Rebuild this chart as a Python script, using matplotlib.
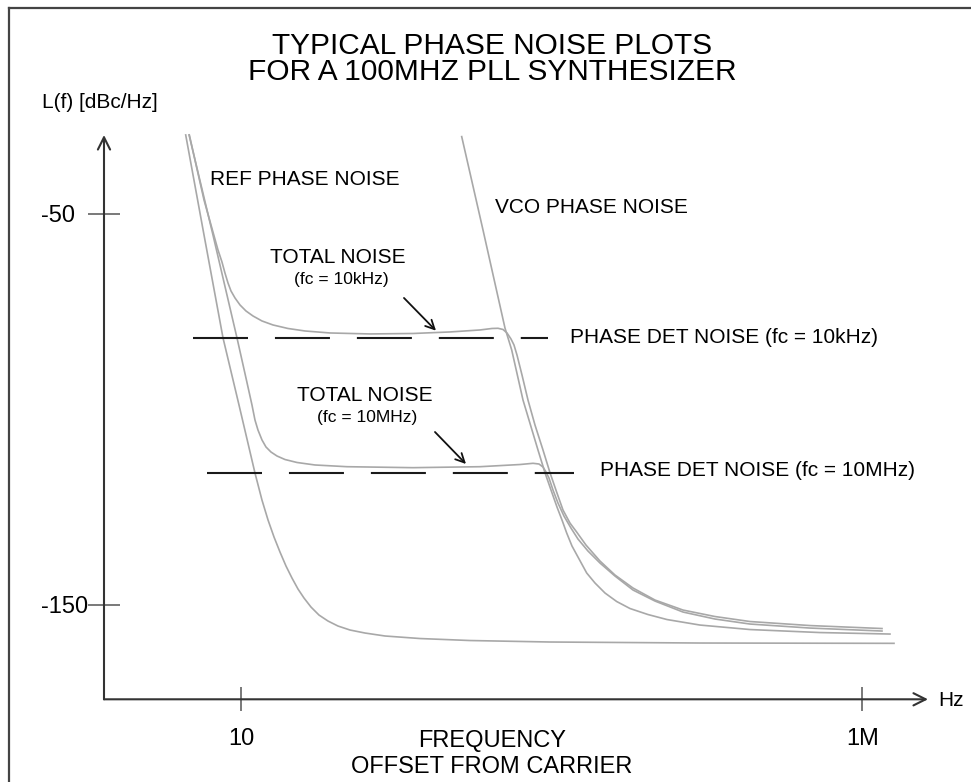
import numpy as np
import matplotlib.pyplot as plt
from matplotlib.lines import Line2D

plt.rcParams['font.family'] = ['Liberation Sans', 'DejaVu Sans']
plt.rcParams['lines.scale_dashes'] = False

# curves: offset frequency [Hz] and L(f) [dBc/Hz]
ref_f = [3.59, 5.04, 7.17, 9.64, 12.96, 14.75, 16.5, 18.44, 20.6, 23.03, 25.73, 28.76, 32.14, 36.59,
         42.44, 50.14, 60.35, 75.4, 99.5, 144.2, 275.8, 696.5, 3067, 49400, 1.8e6]
ref_L = [-29.78, -55.37, -81.74, -98.89, -116.29, -123.2, -128.3, -132.67, -136.51, -140.1, -143.17, -145.98, -148.28, -150.59,
         -152.64, -154.17, -155.45, -156.47, -157.24, -158.0, -158.65, -159.16, -159.54, -159.8, -159.88]

vco_f = [597.4, 886.5, 1332, 1509, 1860, 2456, 2796, 3125, 3492, 3832, 4181, 4612, 5153, 6056, 7062, 8500,
         10560, 13510, 18860, 26820, 49400, 124900, 456700, 1.671e6]
vco_L = [-30.21, -54.1, -79.18, -84.81, -97.61, -110.41, -116.22, -120.64, -124.99, -128.32, -131.65, -134.98, -137.79, -141.88, -144.44, -147.0,
         -149.18, -150.97, -152.51, -153.79, -155.2, -156.35, -157.12, -157.5]

tot10k_f = [3.84, 5.04, 6.53, 7.03, 7.43, 7.86, 8.31, 8.95, 9.82, 10.97, 12.49, 14.76, 18.09, 23.89, 32.74, 52.03,
            109.2, 242.3, 480.8, 838.5, 1047, 1170, 1284, 1383, 1489, 1574, 1664, 1826, 2040, 2323, 2695, 3068,
            3492, 3904, 4443, 5030, 5977, 7749, 10230, 14290, 21470, 36070, 65270, 124900, 379600, 1.441e6]
tot10k_L = [-29.78, -46.42, -59.21, -62.29, -65.1, -67.66, -69.71, -71.5, -73.29, -74.83, -76.11, -77.39, -78.41, -79.31, -79.95, -80.46,
            -80.71, -80.59, -80.2, -79.69, -79.31, -79.26, -79.56, -80.46, -81.99, -83.53, -86.09, -91.21, -97.61, -104.01, -110.41, -116.22,
            -121.42, -125.77, -129.1, -131.4, -134.73, -138.82, -142.4, -145.73, -148.8, -151.36, -153.02, -154.3, -155.33, -156.09]

tot10m_f = [3.82, 5.95, 9.29, 10.97, 12.26, 12.96, 13.7, 14.76, 15.89, 17.43, 19.49, 22.6, 28.23, 39.4, 71.3,
            242.3, 838.5, 1760, 2239, 2502, 2695, 2849, 3011, 3243, 3557, 3975, 4527, 5153, 6201, 7749,
            10230, 14290, 21470, 36070, 65270, 124900, 379600, 1.441e6]
tot10m_L = [-29.78, -55.37, -81.74, -91.98, -98.89, -102.73, -105.29, -107.84, -109.63, -110.92, -111.94, -112.84, -113.6, -114.24, -114.68,
            -114.93, -114.68, -114.12, -113.81, -113.99, -114.76, -116.04, -117.58, -120.65, -123.98, -127.31, -130.38, -133.19, -136.26, -139.33,
            -142.66, -146.24, -149.06, -151.87, -153.66, -154.94, -155.97, -156.73]

# phase detector noise floors
pd_levels = [-81.8, -116.2]
pd_start = [4.11, 5.32]
pd_stop = [2951, 4786]

fig = plt.figure(figsize=(9.71, 7.82), dpi=100)
ax = fig.add_axes([104/971, 1 - 699.3/782, 824/971, (699.3 - 135)/782])
ax.set_xscale('log')
ax.set_xlim(0.79, 3.38e6)
ax.set_ylim(-174.2, -29.8)

gray = '#a8a8a8'
for f, L in [(ref_f, ref_L), (vco_f, vco_L), (tot10k_f, tot10k_L), (tot10m_f, tot10m_L)]:
    ax.plot(f, L, color=gray, lw=1.2, clip_on=False, solid_joinstyle='round')

for lev, f0, f1 in zip(pd_levels, pd_start, pd_stop):
    ax.plot([f0, f1], [lev, lev], color='#1a1a1a', lw=1.5, dashes=(39.6, 19.4))

# axes drawn as arrows
for s in ax.spines.values():
    s.set_visible(False)
axc = '#333333'
ax.annotate('', xy=(0, 1), xytext=(0, 0), xycoords='axes fraction',
            arrowprops=dict(arrowstyle='->', lw=1.5, color=axc, mutation_scale=22, shrinkA=0, shrinkB=0))
ax.annotate('', xy=(1, 0), xytext=(0, 0), xycoords='axes fraction',
            arrowprops=dict(arrowstyle='->', lw=1.5, color=axc, mutation_scale=22, shrinkA=0, shrinkB=0))

ax.set_xticks([10, 1e6], ['10', '1M'])
ax.minorticks_off()
ax.tick_params(axis='x', direction='inout', length=17, width=1.1, color='#555555', pad=12, labelsize=17)
ax.set_yticks([-50, -150], ['-50', '-150'])
ax.tick_params(axis='y', direction='inout', length=23, width=1.1, color='#555555', pad=34, labelsize=17)
for lbl in ax.get_yticklabels():
    lbl.set_horizontalalignment('left')

fig.text(492/971, 1 - 59/782, 'TYPICAL PHASE NOISE PLOTS\nFOR A 100MHZ PLL SYNTHESIZER',
         ha='center', va='center', fontsize=21.5, linespacing=0.95)
fig.text(42/971, 1 - 103/782, 'L(f) [dBc/Hz]', ha='left', va='center', fontsize=15)
fig.text(938/971, 1 - 700/782, 'Hz', ha='left', va='center', fontsize=15)
fig.text(492/971, 1 - 754/782, 'FREQUENCY\nOFFSET FROM CARRIER', ha='center', va='center',
         fontsize=17, linespacing=1.25)

fs = 15
def px(x, y):
    # position of a label given on the drawing grid
    return (10 ** (1 + (x - 241) / 124.26), -50 - (y - 214) / 3.907)

ax.text(*px(210, 180), 'REF PHASE NOISE', fontsize=fs, va='center', ha='left')
ax.text(*px(495, 207.5), 'VCO PHASE NOISE', fontsize=fs, va='center', ha='left')
ax.text(*px(570, 338), 'PHASE DET NOISE (fc = 10kHz)', fontsize=fs, va='center', ha='left')
ax.text(*px(600, 471), 'PHASE DET NOISE (fc = 10MHz)', fontsize=fs, va='center', ha='left')
ax.text(*px(338, 257.5), 'TOTAL NOISE', fontsize=fs, va='center', ha='center')
ax.text(*px(341, 280), '(fc = 10kHz)', fontsize=12.5, va='center', ha='center')
ax.text(*px(365, 395.5), 'TOTAL NOISE', fontsize=fs, va='center', ha='center')
ax.text(*px(367.5, 417.5), '(fc = 10MHz)', fontsize=12.5, va='center', ha='center')

ax.annotate('', xy=px(436, 330.7), xytext=px(404, 298),
            arrowprops=dict(arrowstyle='->', lw=1.3, color='#111111', mutation_scale=16, shrinkA=0, shrinkB=0))
ax.annotate('', xy=px(466, 464), xytext=px(435, 432),
            arrowprops=dict(arrowstyle='->', lw=1.3, color='#111111', mutation_scale=16, shrinkA=0, shrinkB=0))

# frame around the drawing
bx, by = 9/971, 1 - 8/782
fig.add_artist(Line2D([bx, bx], [0, by], transform=fig.transFigure, color='#444444', lw=1.6))
fig.add_artist(Line2D([bx, 1], [by, by], transform=fig.transFigure, color='#444444', lw=1.6))

fig.savefig('out.png', dpi=100)
